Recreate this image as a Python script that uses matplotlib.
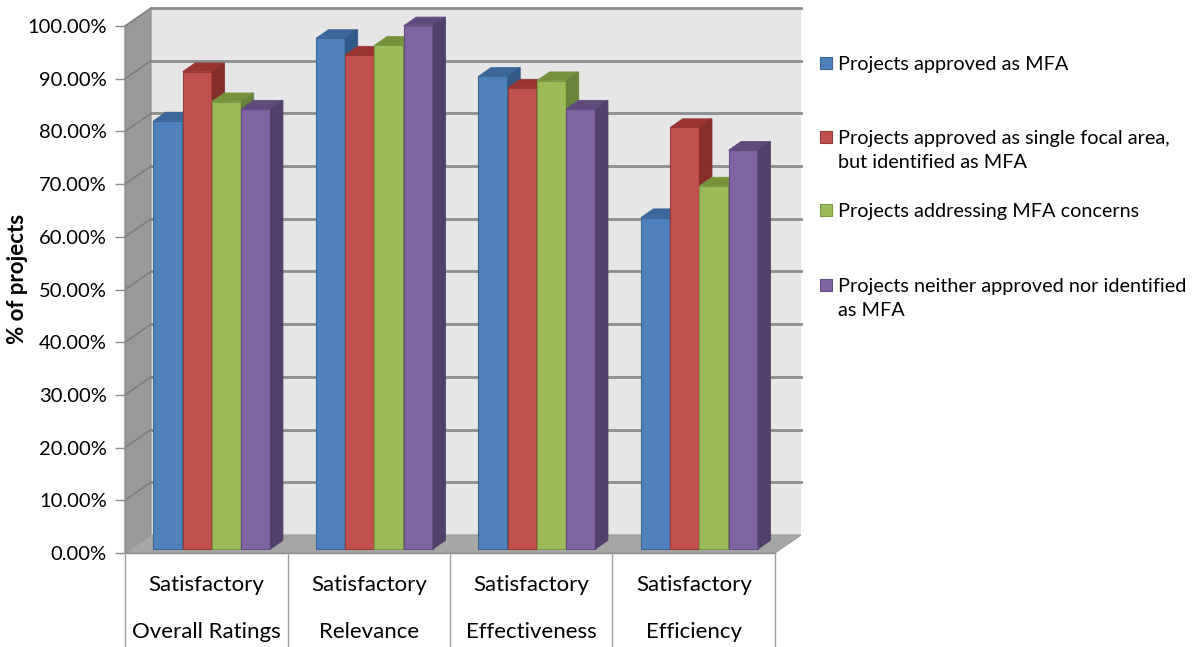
import numpy as np
import matplotlib.pyplot as plt
from matplotlib.patches import Polygon, Rectangle

plt.rcParams['font.family'] = ['Lato', 'DejaVu Sans']

cat_top = ['Satisfactory', 'Satisfactory', 'Satisfactory', 'Satisfactory']
cat_bottom = ['Overall Ratings', 'Relevance', 'Effectiveness', 'Efficiency']

series_names = ['Projects approved as MFA',
                'Projects approved as single focal area,\nbut identified as MFA',
                'Projects addressing MFA concerns',
                'Projects neither approved nor identified\nas MFA']
approved_mfa = [81.25, 96.9, 89.7, 62.9]
single_focal = [90.6, 93.75, 87.5, 80.0]
mfa_concerns = [84.9, 95.6, 88.9, 68.9]
neither = [83.5, 99.3, 83.5, 75.7]
values = [approved_mfa, single_focal, mfa_concerns, neither]

face = ['#4F81BD', '#C0504D', '#9BBB59', '#8064A2']
top_c = ['#3B679C', '#9B3431', '#76923C', '#604A7B']
side_c = ['#325888', '#862E2C', '#68843A', '#51406A']
edge_c = ['#3A6595', '#983A37', '#7A9A44', '#634C82']

yticks = np.arange(0, 101, 10)
ytick_labels = ['%.2f%%' % v for v in yticks]

W, H = 1193, 647
fig = plt.figure(figsize=(W / 100, H / 100), dpi=100)
ax = fig.add_axes([125 / W, 94 / H, 676 / W, 545 / H])

DX = 26 / 162.5      # depth offset, category units
DY = 18 / 5.26       # depth offset, percent units
ncat = len(cat_top)
ax.set_xlim(0, ncat + DX)
ax.set_ylim(0, 100 + DY)
for s in ax.spines.values():
    s.set_visible(False)

# walls
ax.add_patch(Polygon([(DX, DY), (ncat + DX, DY), (ncat + DX, 100 + DY), (DX, 100 + DY)],
                     closed=True, fc='#E6E6E6', ec='none', clip_on=False, zorder=0))
ax.add_patch(Polygon([(0, 0), (0, 100), (DX, 100 + DY), (DX, DY)],
                     closed=True, fc='#999999', ec='#8a8a8a', lw=0.8, clip_on=False, zorder=0))
ax.add_patch(Polygon([(0, 0), (ncat, 0), (ncat + DX, DY), (DX, DY)],
                     closed=True, fc='#A6A6A6', ec='#9a9a9a', lw=0.8, clip_on=False, zorder=0))
for v in yticks[1:]:
    ax.plot([DX, ncat + DX], [v + DY, v + DY], color='#8C8C8C', lw=2, clip_on=False, zorder=1)
    ax.plot([0, DX], [v, v + DY], color='#7A7A7A', lw=1, clip_on=False, zorder=1)
ax.plot([0, ncat], [0, 0], color='#8C8C8C', lw=1, clip_on=False, zorder=1)
ax.plot([0, 0], [0, 100], color='#8C8C8C', lw=1, clip_on=False, zorder=1)

# bars
d0, d1 = 0.22, 0.70
bw = 0.18
bdx, bdy = (d1 - d0) * DX, (d1 - d0) * DY
base = d0 * DY
for c in range(ncat):
    start = c + (1 - 4 * bw) / 2 + d0 * DX
    for s in range(4):
        x0 = start + s * bw
        x1 = x0 + bw
        top = values[s][c] + base
        ax.bar(x0, values[s][c], width=bw, bottom=base, align='edge', color=face[s],
               edgecolor=edge_c[s], linewidth=0.8, zorder=3 + c * 10 + s * 2)
        ax.add_patch(Polygon([(x0, top), (x1, top), (x1 + bdx, top + bdy), (x0 + bdx, top + bdy)],
                             closed=True, fc=top_c[s], ec=edge_c[s], lw=0.6,
                             zorder=3 + c * 10 + s * 2, clip_on=False))
        ax.add_patch(Polygon([(x1, base), (x1, top), (x1 + bdx, top + bdy), (x1 + bdx, base + bdy)],
                             closed=True, fc=side_c[s], ec=side_c[s], lw=0.6,
                             zorder=3 + c * 10 + s * 2, clip_on=False))

# y axis
ax.set_xticks([])
ax.set_yticks(yticks)
ax.set_yticklabels(ytick_labels, fontsize=14.5)
ax.tick_params(axis='y', length=7, width=1, color='#8C8C8C', pad=6)
fig.text(18 / W, 1 - 279 / H, '% of projects', rotation=90, ha='center', va='center',
         fontsize=16, fontweight='bold')

# category box
tr = ax.get_xaxis_transform()
for c in range(ncat + 1):
    ax.plot([c, c], [0, -0.18], color='#A0A0A0', lw=1, transform=tr, clip_on=False)
for c in range(ncat):
    ax.text(c + 0.5, -32 / 545, cat_top[c], transform=tr, ha='center', va='center', fontsize=16)
    ax.text(c + 0.5, -79 / 545, cat_bottom[c], transform=tr, ha='center', va='center', fontsize=16)

# legend
leg_y = [63, 137, 210, 285]
for s in range(4):
    fig.patches.append(Rectangle((820 / W, 1 - (leg_y[s] + 6) / H), 12 / W, 12 / H,
                                 transform=fig.transFigure, fc=face[s], ec=edge_c[s], lw=0.8))
    fig.text(838 / W, 1 - (leg_y[s] - 7) / H, series_names[s], ha='left', va='top',
             fontsize=14.3, linespacing=1.5)

fig.savefig('out.png', dpi=100)
